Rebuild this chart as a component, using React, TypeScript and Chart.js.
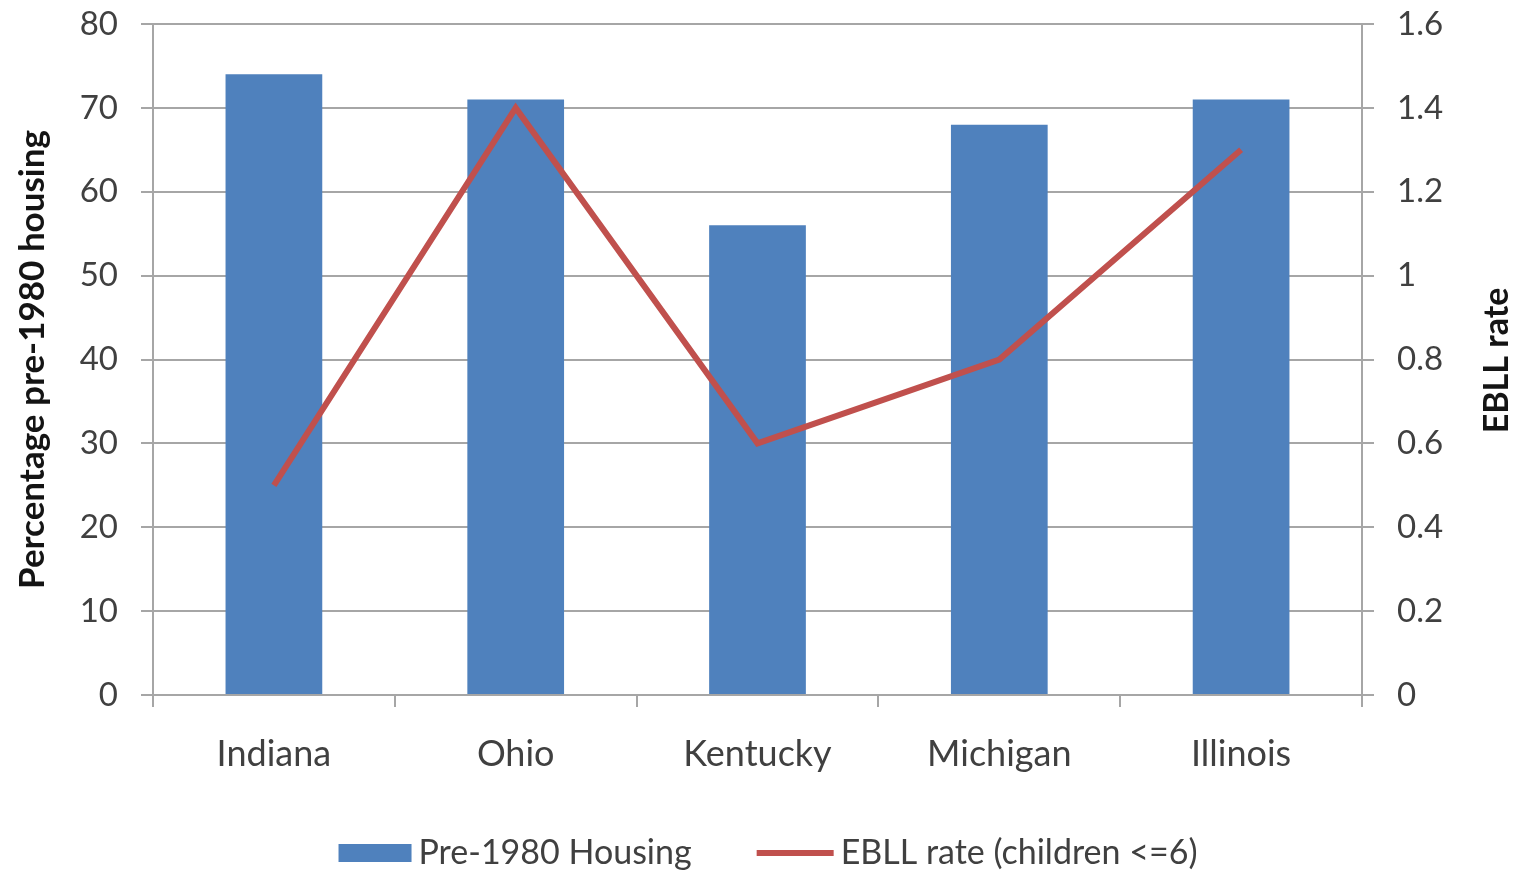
import React, { useEffect, useRef } from "react";
import { Chart, registerables } from "chart.js";

Chart.register(...registerables);

const categories = ["Indiana", "Ohio", "Kentucky", "Michigan", "Illinois"];
const housingValues = [74, 71, 56, 68, 71];
const ebllValues = [0.5, 1.4, 0.6, 0.8, 1.3];
const housingLabel = "Pre-1980 Housing";
const ebllLabel = "EBLL rate (children <=6)";
const leftTitle = "Percentage pre-1980 housing";
const rightTitle = "EBLL rate";

const FONT = "Lato, 'Open Sans', sans-serif";
const TEXT = "#404040";
const TITLE = "#141414";
const GRID = "#a6a6a6";
const BLUE = "#4F81BD";
const RED = "#C0504D";

const extrasPlugin = {
  id: "extras",
  afterDraw(chart: any) {
    const ctx = chart.ctx as CanvasRenderingContext2D;
    const area = chart.chartArea;
    ctx.save();
    // right axis title, reading bottom-to-top
    ctx.font = `bold 34px ${FONT}`;
    ctx.fillStyle = TITLE;
    ctx.textAlign = "center";
    ctx.textBaseline = "middle";
    ctx.translate(1497, (area.top + area.bottom) / 2 + 1);
    ctx.rotate(-Math.PI / 2);
    ctx.fillText(rightTitle, 0, 0);
    ctx.restore();

    // legend
    ctx.save();
    ctx.font = `34px ${FONT}`;
    ctx.textBaseline = "middle";
    ctx.textAlign = "left";
    const y = 853;
    const boxW = 73;
    const lineW = 77;
    const gap = 7;
    const spacing = 65;
    const t1 = ctx.measureText(housingLabel).width;
    const t2 = ctx.measureText(ebllLabel).width;
    const total = boxW + gap + t1 + spacing + lineW + gap + t2;
    let x = 768 - total / 2;
    ctx.fillStyle = BLUE;
    ctx.fillRect(x, y - 9, boxW, 18);
    x += boxW + gap;
    ctx.fillStyle = TEXT;
    ctx.fillText(housingLabel, x, y);
    x += t1 + spacing;
    ctx.strokeStyle = RED;
    ctx.lineWidth = 6;
    ctx.beginPath();
    ctx.moveTo(x, y);
    ctx.lineTo(x + lineW, y);
    ctx.stroke();
    x += lineW + gap;
    ctx.fillStyle = TEXT;
    ctx.fillText(ebllLabel, x, y);
    ctx.restore();
  },
};

export default function App() {
  const canvasRef = useRef<HTMLCanvasElement | null>(null);

  useEffect(() => {
    if (!canvasRef.current) return;
    const chart = new Chart(canvasRef.current, {
      type: "bar",
      data: {
        labels: categories,
        datasets: [
          {
            type: "line",
            label: ebllLabel,
            data: ebllValues,
            yAxisID: "y1",
            borderColor: RED,
            backgroundColor: RED,
            borderWidth: 6,
            pointRadius: 0,
            tension: 0,
            order: 0,
          },
          {
            type: "bar",
            label: housingLabel,
            data: housingValues,
            yAxisID: "y",
            backgroundColor: BLUE,
            borderWidth: 0,
            categoryPercentage: 1,
            barPercentage: 0.4,
            order: 1,
          },
        ],
      },
      options: {
        responsive: false,
        animation: false,
        layout: { padding: { top: 24, left: 0, right: 0, bottom: 0 } },
        plugins: {
          legend: { display: false },
          tooltip: { enabled: false },
        },
        scales: {
          x: {
            offset: true,
            grid: {
              display: true,
              offset: true,
              drawOnChartArea: false,
              drawTicks: true,
              tickLength: 12,
              color: GRID,
              lineWidth: 2,
            },
            border: { color: GRID, width: 2 },
            ticks: { color: TEXT, font: { family: FONT, size: 36 }, padding: 26 },
            afterFit: (s: any) => {
              s.height = 177;
              s.paddingLeft = 0;
              s.paddingRight = 0;
            },
          },
          y: {
            position: "left",
            min: 0,
            max: 80,
            ticks: { stepSize: 10, color: TEXT, font: { family: FONT, size: 33 }, padding: 23 },
            grid: { color: GRID, lineWidth: 2, tickLength: 12 },
            border: { color: GRID, width: 2 },
            title: {
              display: true,
              text: leftTitle,
              color: TITLE,
              font: { family: FONT, size: 35, weight: "bold" },
              padding: { top: 12, bottom: 0 },
            },
            afterFit: (s: any) => {
              s.width = 153;
              s.paddingTop = 0;
              s.paddingBottom = 0;
            },
          },
          y1: {
            position: "right",
            min: 0,
            max: 1.6,
            ticks: {
              stepSize: 0.2,
              color: TEXT,
              font: { family: FONT, size: 33 },
              padding: 23,
              callback: (v: any) => String(Math.round(Number(v) * 10) / 10),
            },
            grid: { drawOnChartArea: false, color: GRID, lineWidth: 2, tickLength: 12 },
            border: { color: GRID, width: 2 },
            afterFit: (s: any) => {
              s.width = 158;
              s.paddingTop = 0;
              s.paddingBottom = 0;
            },
          },
        },
      },
      plugins: [extrasPlugin],
    });
    return () => chart.destroy();
  }, []);

  return (
    <div style={{ position: "fixed", left: 0, top: 0, width: 1520, height: 872, background: "#fff" }}>
      <canvas ref={canvasRef} width={1520} height={872} style={{ display: "block" }} />
    </div>
  );
}
